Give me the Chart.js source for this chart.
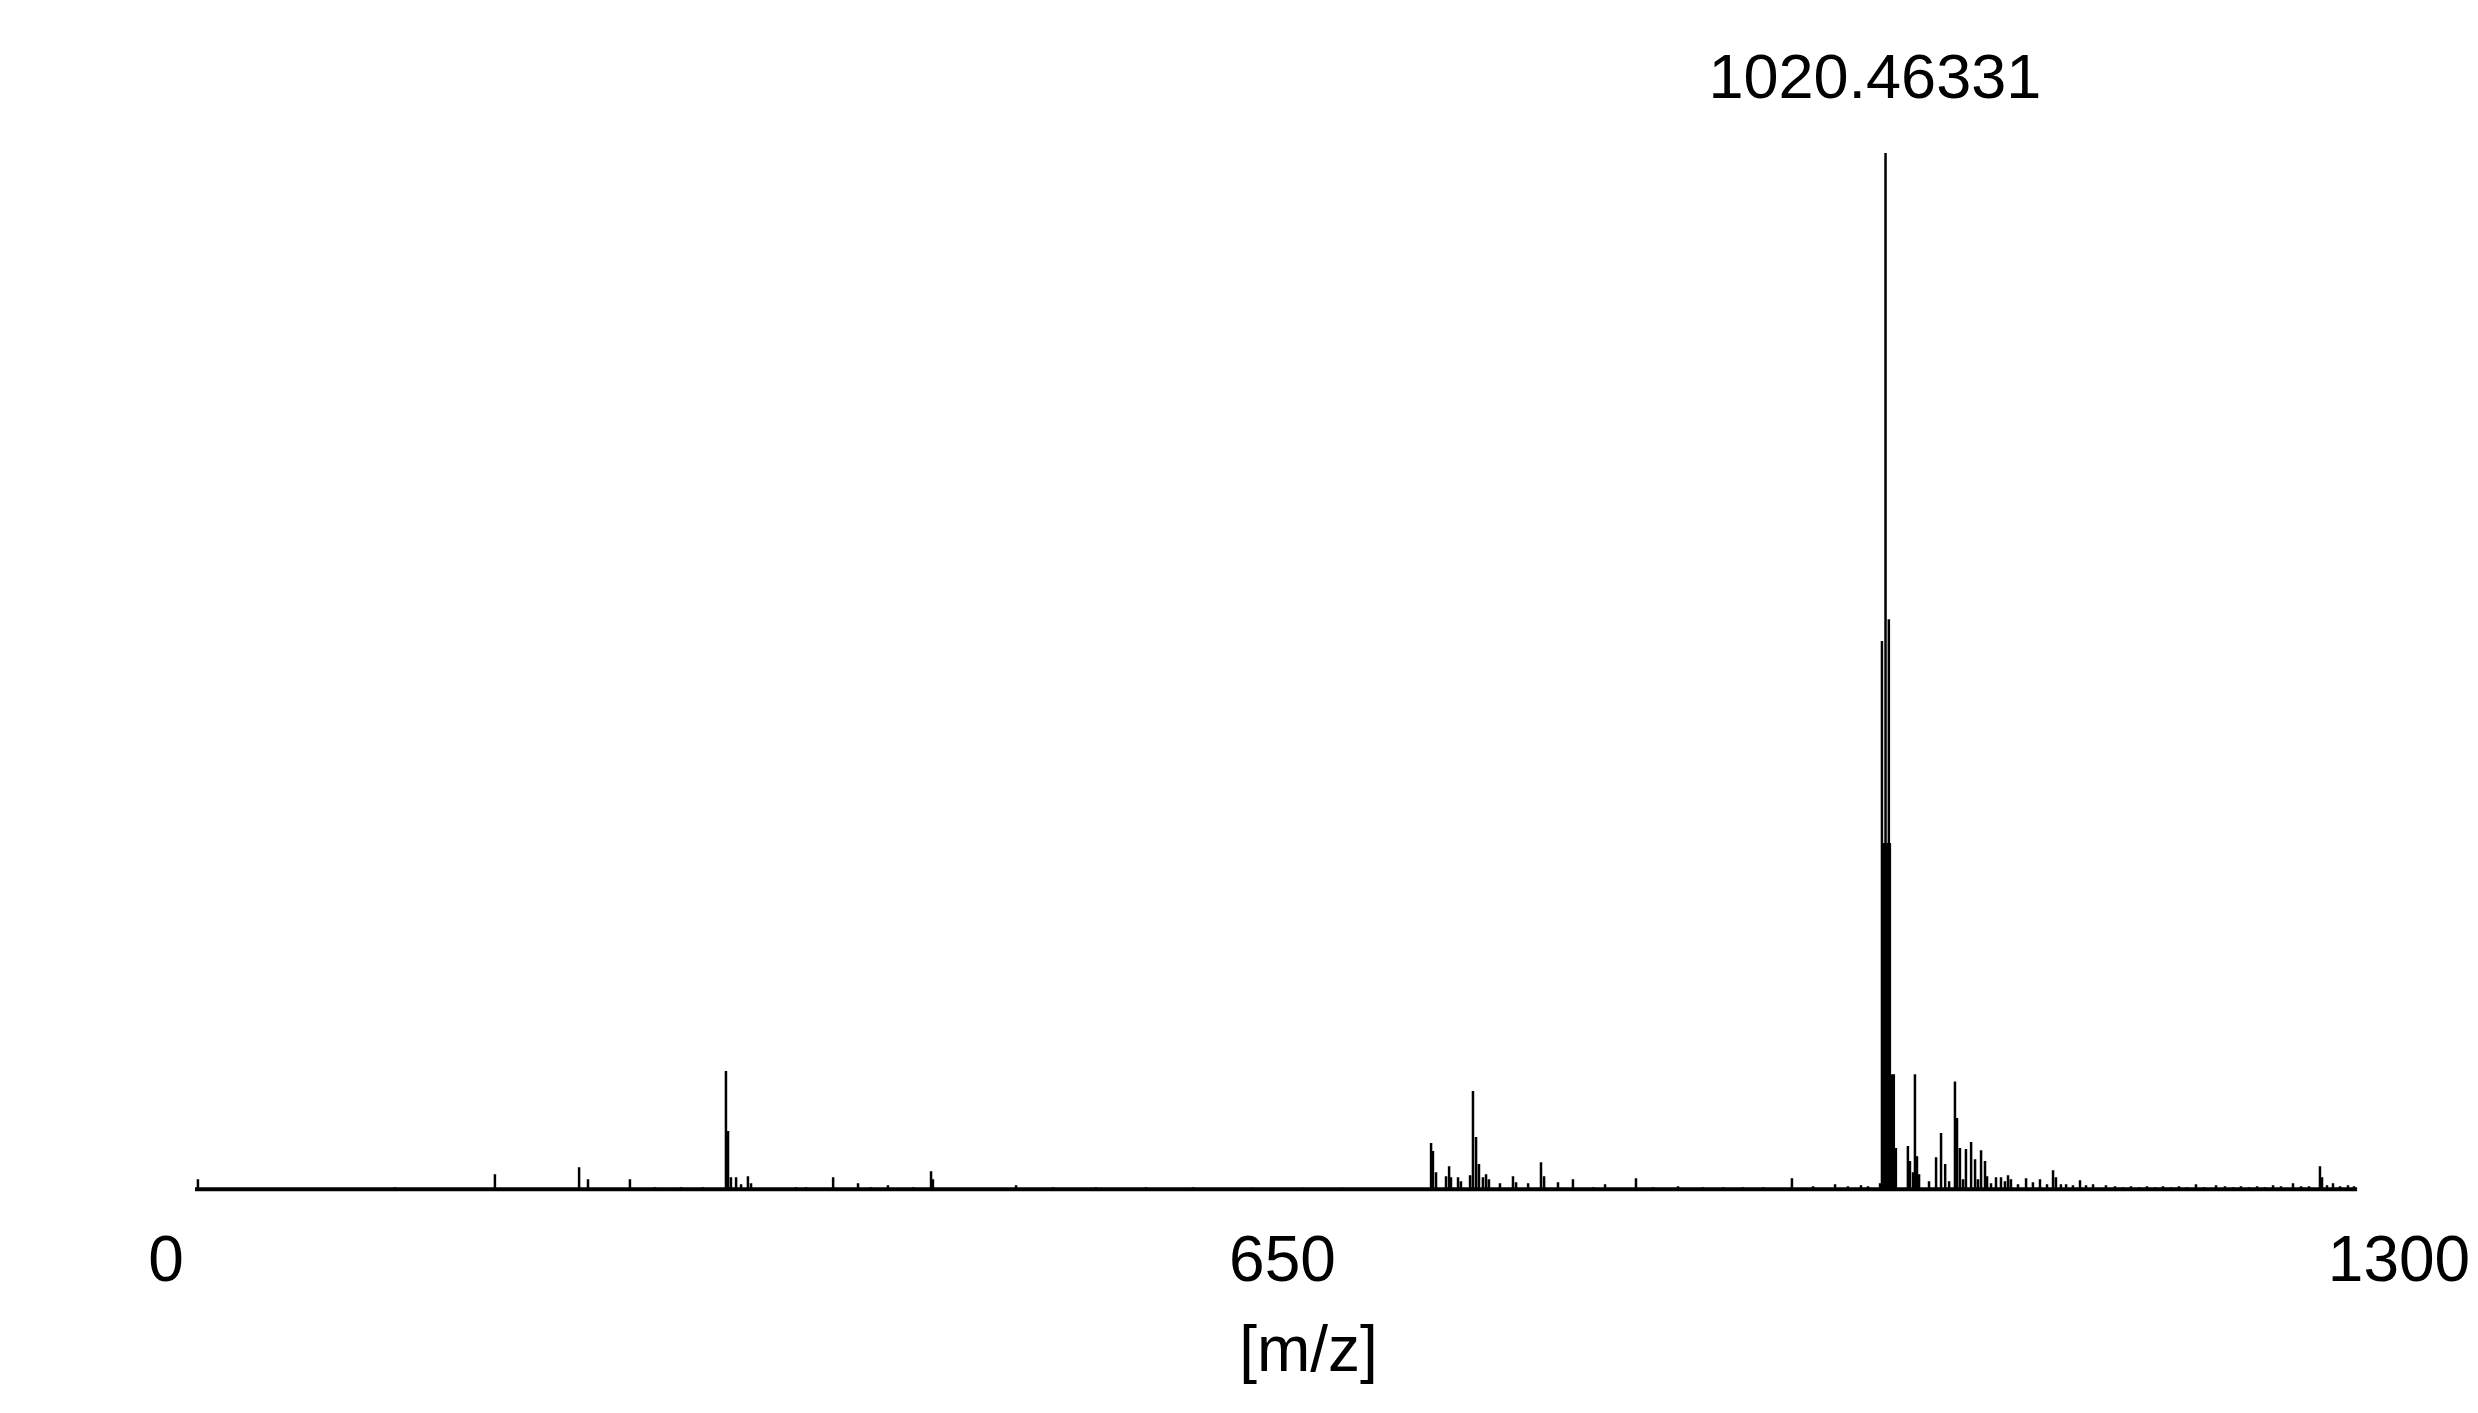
<!DOCTYPE html>
<html>
<head>
<meta charset="utf-8">
<title>Mass spectrum</title>
<script src="https://cdn.jsdelivr.net/npm/chart.js@4.4.1/dist/chart.umd.min.js"></script>
<style>
  html, body { margin: 0; padding: 0; background: #fff; }
  canvas { display: block; }
</style>
</head>
<body>
<canvas id="spectrum" width="2478" height="1413"></canvas>
<script>
// axis
const xTicks = [0, 650, 1300];
const axisTitle = '[m/z]';
const scanStart = 36.1;   // first and last m/z of the acquired range
const scanEnd = 1294.8;

// base peak
const basePeakMz = 1020.46331;
const basePeakInt = 100;
const basePeakLabel = '1020.46331';

// centroids, m/z and relative intensity (%)
const peakMz = [
  37.8, 152.5, 210.7, 259.7, 264.9, 289.3, 303.9, 319.0,
  331.8, 345.2, 346.4, 348.1, 351.1, 354.0, 358.0, 359.8, 386.0, 391.8,
  407.6, 422.1, 429.6, 439.5, 454.1, 464.6, 465.7, 514.1, 535.6, 560.6,
  589.7, 617.1, 652.0, 681.2, 704.4,
  755.7, 756.8, 758.6, 764.4, 766.2, 767.3, 771.4, 773.1, 778.4, 780.1,
  781.9, 783.6, 785.9, 787.7, 789.4, 795.8, 803.4, 805.2, 812.2, 819.7,
  821.5, 829.6, 838.3, 850.0, 857.0, 875.0, 884.9, 899.5, 914.0, 925.7,
  937.3, 949.0, 965.8, 978.1, 990.9, 998.4, 1006.0, 1010.1, 1017.1,
  1018.2, 1018.8, 1019.4, 1020.0, 1020.46331, 1021.1, 1021.7, 1022.2, 1022.8,
  1023.9, 1025.1, 1026.3, 1033.3, 1034.5, 1036.3, 1037.4, 1038.6, 1039.8,
  1045.6, 1049.7, 1052.6, 1055.0, 1057.3, 1060.7, 1061.9, 1063.6, 1065.4,
  1067.1, 1070.1, 1072.4, 1074.1, 1075.9, 1078.2, 1079.4, 1081.7, 1084.6,
  1087.5, 1089.8, 1091.6, 1093.3, 1097.4, 1102.1, 1106.1, 1110.2, 1114.3,
  1117.8, 1119.5, 1122.4, 1125.4, 1129.4, 1133.5, 1137.0, 1141.1, 1148.6,
  1153.9, 1158.5, 1163.2, 1167.9, 1172.5, 1177.2, 1181.8, 1186.5, 1191.1,
  1195.8, 1201.0, 1205.7, 1212.7, 1217.9, 1222.6, 1227.2, 1231.9, 1236.6,
  1241.2, 1245.9, 1250.5, 1257.5, 1262.2, 1266.8, 1273.2, 1274.4, 1277.3,
  1280.8, 1284.9, 1289.5, 1293.0
];
const peakInt = [
  0.97, 0.19, 1.45, 2.13, 0.97, 0.97, 0.19, 0.19,
  0.19, 11.4, 5.61, 1.16, 1.16, 0.48, 1.26, 0.58, 0.19, 0.19,
  1.16, 0.58, 0.19, 0.39, 0.19, 1.74, 0.97, 0.39, 0.19, 0.19,
  0.19, 0.19, 0.15, 0.15, 0.15,
  4.45, 3.68, 1.64, 1.26, 2.22, 1.16, 1.16, 0.77, 1.35, 9.48,
  5.03, 2.42, 1.16, 1.45, 0.97, 0.58, 1.26, 0.68, 0.58, 2.61,
  1.26, 0.68, 0.97, 0.19, 0.48, 1.06, 0.19, 0.29, 0.19, 0.19,
  0.19, 0.19, 1.06, 0.29, 0.48, 0.29, 0.39, 0.29, 0.58,
  52.9, 33.4, 33.4, 33.4, 100, 33.4, 33.4, 55.0, 33.4,
  11.1, 11.1, 3.97, 4.16, 2.71, 1.64, 11.1, 3.19, 1.45,
  0.77, 3.09, 5.42, 2.42, 0.77, 10.4, 6.87, 3.97, 0.97,
  3.87, 4.55, 2.90, 0.97, 3.77, 2.71, 1.26, 0.58, 1.16,
  1.16, 0.77, 1.35, 0.97, 0.48, 1.06, 0.68, 0.97, 0.48,
  1.84, 1.16, 0.48, 0.48, 0.39, 0.87, 0.39, 0.48, 0.39,
  0.29, 0.19, 0.29, 0.19, 0.29, 0.19, 0.29, 0.19, 0.29,
  0.19, 0.48, 0.19, 0.39, 0.29, 0.19, 0.29, 0.19, 0.29,
  0.19, 0.39, 0.29, 0.58, 0.29, 0.29, 2.22, 1.16, 0.39,
  0.58, 0.29, 0.39, 0.29
];

// stick trace: each centroid goes baseline -> top -> baseline
const sticks = [{ x: scanStart, y: 0 }];
peakMz.forEach((mz, i) => {
  sticks.push({ x: mz, y: 0 }, { x: mz, y: peakInt[i] }, { x: mz, y: 0 });
});
sticks.push({ x: scanEnd, y: 0 });

const FONT = 'Liberation Sans, Arial, Helvetica, sans-serif';

// axis title under the middle tick and the base peak annotation
const labelsPlugin = {
  id: 'spectrumLabels',
  afterDraw(chart) {
    const ctx = chart.ctx;
    const xs = chart.scales.x, ys = chart.scales.y;
    ctx.save();
    ctx.fillStyle = '#000';
    ctx.textAlign = 'center';
    ctx.textBaseline = 'alphabetic';

    ctx.font = '63px ' + FONT;
    ctx.fillText(basePeakLabel, xs.getPixelForValue(basePeakMz) - 11, ys.getPixelForValue(basePeakInt) - 55);

    ctx.font = '64px ' + FONT;
    ctx.fillText(axisTitle, xs.getPixelForValue(xTicks[1]) + 59, chart.chartArea.bottom + 182);
    ctx.restore();
  }
};

new Chart(document.getElementById('spectrum'), {
  type: 'line',
  data: {
    datasets: [
      {
        // baseline band
        data: [{ x: scanStart, y: 0 }, { x: scanEnd, y: 0 }],
        borderColor: '#000',
        borderWidth: 4,
        pointRadius: 0,
        clip: false
      },
      {
        data: sticks,
        borderColor: '#000',
        borderWidth: 2.5,
        borderJoinStyle: 'bevel',
        pointRadius: 0,
        tension: 0,
        clip: false
      }
    ]
  },
  options: {
    responsive: false,
    animation: false,
    events: [],
    layout: { padding: { left: 133, right: 112, top: 153, bottom: 75 } },
    plugins: { legend: { display: false }, tooltip: { enabled: false } },
    scales: {
      x: {
        type: 'linear',
        min: xTicks[0],
        max: xTicks[xTicks.length - 1],
        afterBuildTicks: axis => { axis.ticks = xTicks.map(v => ({ value: v })); },
        grid: { display: false, drawTicks: false },
        border: { display: false },
        ticks: {
          color: '#000',
          font: { family: FONT, size: 64 },
          padding: 36,
          labelOffset: 33,
          maxRotation: 0,
          autoSkip: false,
          callback: v => String(v)
        }
      },
      y: {
        display: false,
        min: 0,
        max: 100
      }
    }
  },
  plugins: [labelsPlugin]
});
</script>
</body>
</html>
